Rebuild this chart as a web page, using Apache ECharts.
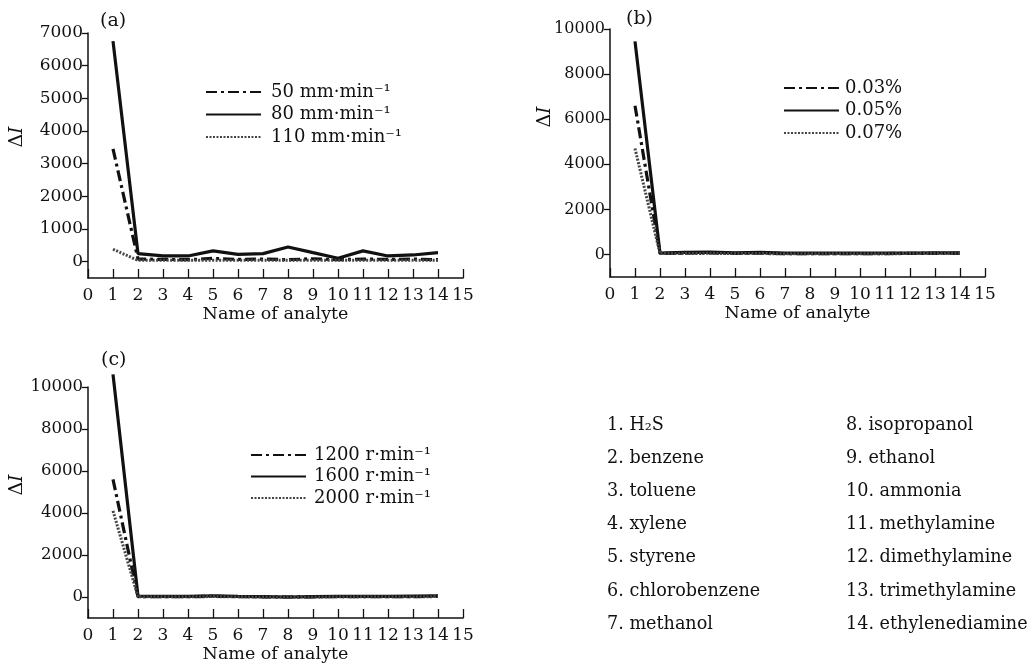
<!DOCTYPE html>
<html><head><meta charset="utf-8">
<script src="https://cdn.jsdelivr.net/npm/echarts@6/dist/echarts.min.js"></script>
<style>html,body{margin:0;padding:0;background:#fff}#c{width:1030px;height:665px}</style>
</head><body><div id="c"></div>
<script>
const analyteX = [1,2,3,4,5,6,7,8,9,10,11,12,13,14];
const xTicks = [0,1,2,3,4,5,6,7,8,9,10,11,12,13,14,15];
const yTicksA = [0,1000,2000,3000,4000,5000,6000,7000];
const yTicksBC = [0,2000,4000,6000,8000,10000];

const namesA = ['50 mm·min⁻¹','80 mm·min⁻¹','110 mm·min⁻¹'];
const a50  = [3450, 80, 70, 60, 100, 70, 80, 60, 90, 60, 80, 70, 80, 60];
const a80  = [6750, 245, 175, 175, 330, 225, 245, 450, 275, 105, 330, 175, 205, 275];
const a110 = [380, 40, 40, 40, 40, 40, 40, 40, 40, 40, 40, 40, 40, 40];

const namesB = ['0.03%','0.05%','0.07%'];
const b003 = [6600, 50, 60, 70, 50, 60, 40, 40, 40, 40, 40, 50, 50, 50];
const b005 = [9450, 60, 90, 100, 70, 90, 60, 60, 60, 60, 60, 60, 70, 70];
const b007 = [4700, 40, 40, 50, 40, 40, 30, 30, 30, 30, 30, 40, 40, 40];

const namesC = ['1200 r·min⁻¹','1600 r·min⁻¹','2000 r·min⁻¹'];
const c1200 = [5600, 20, 20, 20, 30, 20, 10, 0, 10, 20, 20, 20, 20, 30];
const c1600 = [10600, 40, 30, 30, 60, 30, 20, 0, 20, 30, 30, 30, 40, 50];
const c2000 = [4100, 10, 10, 10, 20, 10, 0, -10, 0, 10, 10, 10, 10, 20];

const analyteList = ['1. H₂S','2. benzene','3. toluene','4. xylene','5. styrene','6. chlorobenzene','7. methanol',
  '8. isopropanol','9. ethanol','10. ammonia','11. methylamine','12. dimethylamine','13. trimethylamine','14. ethylenediamine'];

const FONT = 'DejaVu Serif';
const INK = '#111';
const zip = arr => arr.map((v,i)=>[analyteX[i], v]);

const styles = [
  {type:[11,4,3,4], width:3.2, color:INK},
  {type:'solid', width:3.2, color:INK},
  {type:[2,1.5], width:3, color:'#444'}
];

function grids(){
  return [
    {left:88, top:33, width:375, height:245},
    {left:610, top:29, width:375, height:248},
    {left:88, top:387, width:375, height:231}
  ];
}
function xAx(i){
  return {type:'value', gridIndex:i, min:0, max:15, interval:1,
    axisLine:{onZero:false, lineStyle:{color:INK,width:1.5}},
    axisTick:{inside:true, length:9, lineStyle:{color:INK,width:1.3}, customValues:xTicks},
    axisLabel:{color:INK, fontFamily:FONT, fontSize:17, margin:9, customValues:xTicks, formatter:v=>String(v)},
    splitLine:{show:false},
    name:'Name of analyte', nameLocation:'middle', nameGap:27,
    nameTextStyle:{color:INK, fontFamily:FONT, fontSize:17.5}};
}
function yAx(i, min, max, ticks, fs){
  return {type:'value', gridIndex:i, min:min, max:max,
    axisLine:{show:true, onZero:false, lineStyle:{color:INK,width:1.5}},
    axisTick:{show:true, length:6, lineStyle:{color:INK,width:1.3}, customValues:ticks},
    axisLabel:{color:INK, fontFamily:FONT, fontSize:fs, margin:5, customValues:ticks, formatter:v=>String(v)},
    splitLine:{show:false}};
}
function ser(name, data, gi, si){
  return {type:'line', name:name, xAxisIndex:gi, yAxisIndex:gi, data:zip(data), clip:false,
    showSymbol:false, symbol:'none', lineStyle:styles[si], itemStyle:{color:styles[si].color},
    emphasis:{disabled:true}, animation:false};
}
function leg(names, left, top, gap, tpad){
  return {data:names, orient:'vertical', left:left, top:top, padding:0, itemWidth:55, itemHeight:12, itemGap:gap,
    selectedMode:false, itemStyle:{opacity:0},
    textStyle:{color:INK, fontFamily:FONT, fontSize:18, lineHeight:18, padding:[0,0,0,tpad]}};
}
function yName(x, y){
  return {type:'text', x:x, y:y, rotation:Math.PI/2,
    style:{text:'{a|Δ}{b|I}', align:'center', verticalAlign:'middle', fill:INK,
      rich:{a:{fontFamily:FONT, fontSize:19, fill:INK}, b:{fontFamily:FONT, fontSize:19, fontStyle:'italic', fill:INK}}}};
}
function txt(x, y, s, fs){
  return {type:'text', x:x, y:y, style:{text:s, fill:INK, font:fs+'px "'+FONT+'"', align:'left', verticalAlign:'middle'}};
}

const graphic = [
  yName(17,137), yName(545,117), yName(17,485),
  txt(100,21,'(a)',19), txt(626,19,'(b)',19), txt(101,360,'(c)',19)
];
analyteList.forEach((s,i)=>{
  const col = i<7 ? 0 : 1;
  const row = i%7;
  graphic.push(txt(col===0?607:846, 425 + row*33.2, s, 17.6));
});

const chart = echarts.init(document.getElementById('c'), null, {renderer:'canvas'});
chart.setOption({
  animation:false,
  backgroundColor:'#fff',
  grid:grids(),
  xAxis:[xAx(0), xAx(1), xAx(2)],
  yAxis:[yAx(0,-500,7000,yTicksA,17), yAx(1,-1000,10000,yTicksBC,16), yAx(2,-1000,10000,yTicksBC,16.5)],
  legend:[leg(namesA,205,83,4.5,5), leg(namesB,783,79,4.5,1), leg(namesC,250,446,3.5,3)],
  series:[
    ser(namesA[0],a50,0,0), ser(namesA[1],a80,0,1), ser(namesA[2],a110,0,2),
    ser(namesB[0],b003,1,0), ser(namesB[1],b005,1,1), ser(namesB[2],b007,1,2),
    ser(namesC[0],c1200,2,0), ser(namesC[1],c1600,2,1), ser(namesC[2],c2000,2,2)
  ],
  graphic:graphic
});
</script></body></html>
